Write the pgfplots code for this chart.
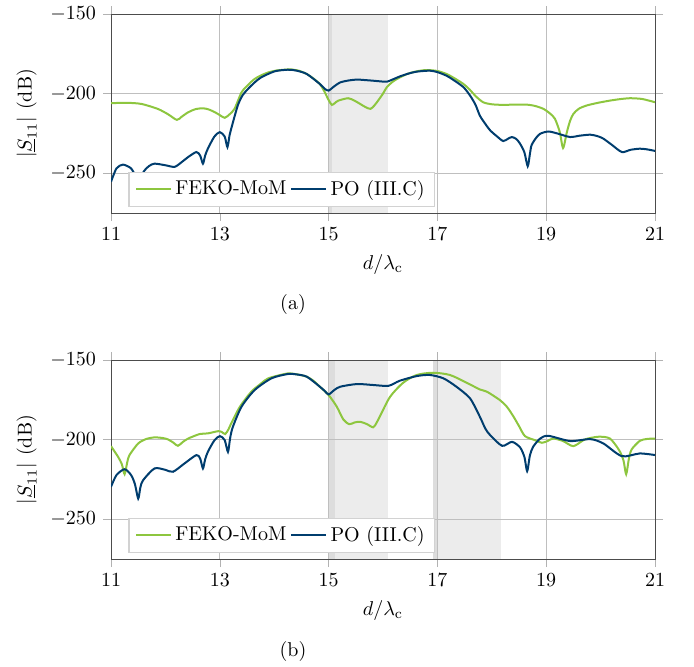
\documentclass[border=0pt]{standalone}
\usepackage{pgfplots}
\pgfplotsset{compat=1.18}
\definecolor{mygreen}{RGB}{141,198,63}
\definecolor{myblue}{RGB}{0,61,110}
\pgfplotsset{
  myax/.style={
    set layers,
    scale only axis, width=272pt, height=99.5pt,
    xmin=11, xmax=21, ymin=-275, ymax=-150,
    xtick={11,13,15,17,19,21}, ytick={-250,-200,-150},
    grid=major, grid style={gray!50, line width=0.5pt},
    axis line style={black!70},
    tick align=outside, major tick length=4pt, tick style={gray!60},
    xlabel={$d/\lambda_\mathrm{c}$},
    ylabel={$|\underline{S}_{11}|$ (dB)},
    legend columns=2,
    legend style={at={(0.032,0.03)}, anchor=south west, draw=gray!35, line width=0.7pt, fill=white},
  },
  mom/.style={mygreen, line width=1pt, smooth, tension=0.45},
  po/.style={myblue, line width=1pt, smooth, tension=0.45},
}
\begin{document}
\begin{tikzpicture}
\begin{axis}[myax, at={(0,0)}, anchor=south west]
\addplot[fill=gray!15, draw=none, on layer=axis background, forget plot] coordinates {(15.06,-275) (16.09,-275) (16.09,-150) (15.06,-150)} -- cycle;
\addplot[fill=gray!27, draw=none, on layer=axis background, forget plot] coordinates {(15.0,-275) (15.06,-275) (15.06,-150) (15.0,-150)} -- cycle;
\addplot[mom] coordinates {
(11.0,-206.0) (11.3,-205.8) (11.56,-206.5) (11.86,-209.6) (12.05,-213) (12.21,-216.5) (12.3,-214.5) (12.42,-211.7) (12.55,-209.8) (12.69,-209.2) (12.8,-210) (12.91,-211.7) (13.0,-213.5) (13.09,-215.2) (13.18,-213) (13.27,-209.6) (13.4,-199.2) (13.52,-194.5) (13.64,-190.8) (13.76,-188.5) (13.89,-186.7) (14.04,-185.5) (14.19,-185) (14.3,-184.8) (14.45,-185.6) (14.6,-187.7) (14.72,-190.5) (14.84,-194) (14.92,-198.5) (15.0,-204) (15.06,-207.1) (15.12,-205.8) (15.18,-204.4) (15.36,-202.9) (15.48,-204.5) (15.58,-206.5) (15.68,-208.5) (15.77,-209.6) (15.84,-207.5) (15.91,-204.4) (16.0,-200) (16.07,-196) (16.18,-192.5) (16.31,-189.8) (16.46,-187.5) (16.62,-186) (16.8,-185.2) (17.0,-185.8) (17.17,-187.7) (17.32,-190.5) (17.48,-194) (17.6,-197.7) (17.7,-201.5) (17.84,-205.4) (18.0,-206.7) (18.21,-207.1) (18.4,-206.9) (18.64,-206.9) (18.8,-207.8) (18.95,-209.6) (19.07,-212.5) (19.16,-215.8) (19.25,-224.2) (19.31,-234.2) (19.38,-224.2) (19.44,-217) (19.50,-212.7) (19.6,-209.5) (19.74,-207.5) (19.95,-205.8) (20.17,-204.4) (20.35,-203.5) (20.54,-202.9) (20.75,-203.3) (20.9,-204.5) (21.0,-205.4)
};
\addplot[po] coordinates {
(11.0,-255.4) (11.1,-247) (11.22,-244.6) (11.37,-247) (11.45,-252) (11.52,-257) (11.6,-249) (11.7,-245.5) (11.80,-244) (12.0,-245) (12.17,-246) (12.3,-243) (12.42,-239.8) (12.57,-236.7) (12.64,-239) (12.69,-244) (12.73,-239) (12.78,-234.6) (12.9,-227) (13.0,-224.2) (13.09,-227) (13.14,-233.6) (13.18,-226) (13.21,-222) (13.33,-207.5) (13.42,-201) (13.52,-197) (13.64,-193) (13.76,-189.8) (14.01,-186) (14.25,-185) (14.4,-185.5) (14.6,-187.7) (14.84,-194) (14.93,-197) (15.0,-198.1) (15.1,-195.5) (15.21,-193) (15.36,-191.8) (15.52,-191.2) (15.67,-191.5) (15.82,-191.9) (15.95,-192.3) (16.07,-192.5) (16.2,-190.8) (16.31,-189.2) (16.46,-187.5) (16.62,-186.2) (16.86,-185.6) (17.0,-186.5) (17.17,-188.8) (17.32,-192) (17.48,-196) (17.6,-201.2) (17.7,-207) (17.78,-213.8) (17.88,-219) (17.97,-223.1) (18.1,-227) (18.21,-229.8) (18.3,-228.3) (18.37,-227.3) (18.45,-228.5) (18.52,-231.5) (18.6,-237) (18.66,-245.6) (18.70,-238) (18.73,-232.5) (18.81,-228) (18.89,-225.2) (19.04,-223.8) (19.2,-225) (19.44,-227.3) (19.6,-226.5) (19.81,-225.8) (19.95,-226.8) (20.05,-228.3) (20.2,-232) (20.39,-236.7) (20.55,-235.3) (20.72,-234.6) (20.85,-235) (21.0,-236)
};
\legend{FEKO-MoM, PO (III.C)}
\end{axis}
\node at (91pt,-45.5pt) {(a)};
\begin{axis}[myax, at={(0,-173pt)}, anchor=south west]
\addplot[fill=gray!15, draw=none, on layer=axis background, forget plot] coordinates {(15.12,-275) (16.09,-275) (16.09,-150) (15.12,-150)} -- cycle;
\addplot[fill=gray!27, draw=none, on layer=axis background, forget plot] coordinates {(15.0,-275) (15.12,-275) (15.12,-150) (15.0,-150)} -- cycle;
\addplot[fill=gray!15, draw=none, on layer=axis background, forget plot] coordinates {(17.0,-275) (18.16,-275) (18.16,-150) (17.0,-150)} -- cycle;
\addplot[fill=gray!27, draw=none, on layer=axis background, forget plot] coordinates {(16.92,-275) (17.0,-275) (17.0,-150) (16.92,-150)} -- cycle;
\addplot[mom] coordinates {
(11.0,-204.1) (11.13,-210.8) (11.2,-215.5) (11.25,-221.7) (11.3,-214) (11.34,-209.7) (11.5,-202.4) (11.65,-199.6) (11.80,-198.6) (11.95,-199) (12.05,-199.9) (12.15,-202) (12.23,-203.9) (12.32,-201.5) (12.42,-199.3) (12.63,-196.5) (12.78,-196.1) (12.97,-194.7) (13.04,-195.3) (13.10,-196.5) (13.16,-193.5) (13.21,-189.8) (13.37,-179.3) (13.58,-169.9) (13.75,-165) (13.89,-161.5) (14.19,-158.8) (14.29,-158.4) (14.45,-159.2) (14.6,-160.5) (14.72,-163) (14.84,-166.8) (15.0,-172) (15.15,-179.3) (15.27,-187.3) (15.38,-190.3) (15.48,-189.2) (15.58,-188.8) (15.7,-190.2) (15.82,-192.3) (15.88,-189.5) (15.94,-185.6) (16.13,-173.1) (16.37,-164.3) (16.62,-159.4) (16.92,-158) (17.23,-159.4) (17.54,-164.3) (17.78,-168.5) (17.91,-169.9) (18.15,-175.2) (18.28,-179.5) (18.4,-185.6) (18.5,-191.5) (18.61,-197.8) (18.79,-200.3) (18.92,-202) (19.03,-200.8) (19.13,-199.3) (19.31,-200.9) (19.50,-204.1) (19.71,-199.9) (19.96,-198.2) (20.17,-199.3) (20.34,-206.6) (20.42,-213) (20.47,-221.7) (20.52,-212) (20.57,-206.2) (20.72,-200.8) (20.85,-199.6) (21.0,-199.3)
};
\addplot[po] coordinates {
(11.0,-229.7) (11.1,-222.3) (11.25,-218.6) (11.37,-222.3) (11.44,-228) (11.5,-237) (11.54,-230) (11.59,-225.5) (11.8,-218.1) (12.0,-219) (12.14,-220.2) (12.35,-215) (12.57,-209.7) (12.64,-212) (12.69,-218.1) (12.73,-212.5) (12.78,-207.7) (12.9,-200.5) (13.0,-197.8) (13.09,-200.3) (13.15,-207.7) (13.19,-199) (13.24,-192) (13.40,-179.3) (13.64,-168.9) (13.95,-161.5) (14.25,-158.8) (14.4,-159) (14.6,-160.5) (14.84,-166.8) (14.93,-169.5) (15.0,-171.6) (15.1,-169) (15.21,-166.8) (15.52,-165.1) (15.82,-165.7) (16.1,-166.2) (16.31,-163) (16.62,-160.1) (16.86,-159.4) (17.11,-161.5) (17.35,-166.8) (17.6,-174.1) (17.78,-185.6) (17.88,-193) (17.97,-197.2) (18.19,-203.9) (18.37,-201.4) (18.52,-204.9) (18.6,-211) (18.65,-219.8) (18.7,-210) (18.76,-204.5) (18.89,-199.3) (19.04,-197.6) (19.44,-200.9) (19.81,-199.7) (20.05,-202.4) (20.39,-210.4) (20.72,-208.7) (21.0,-209.7)
};
\legend{FEKO-MoM, PO (III.C)}
\end{axis}
\node at (91pt,-219pt) {(b)};
\pgfresetboundingbox
\path (-55.5pt,106.5pt) rectangle (291.5pt,-226.5pt);
\end{tikzpicture}
\end{document}
